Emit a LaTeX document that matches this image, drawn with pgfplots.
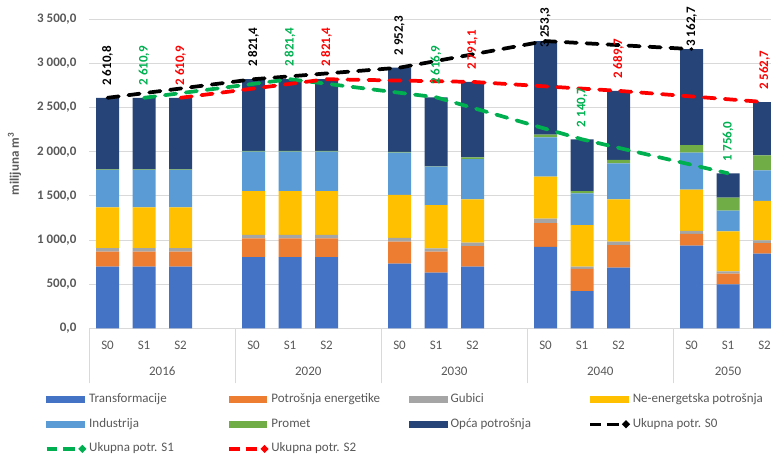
\documentclass[border=0pt]{standalone}
\usepackage{pgfplots}
\pgfplotsset{compat=1.18}
\usepackage{pgfplotstable}
\usepackage{fontspec}
\setmainfont{Carlito}

\definecolor{cTr}{HTML}{4472C4}
\definecolor{cEn}{HTML}{ED7D31}
\definecolor{cGu}{HTML}{A5A5A5}
\definecolor{cNe}{HTML}{FFC000}
\definecolor{cIn}{HTML}{5B9BD5}
\definecolor{cPr}{HTML}{70AD47}
\definecolor{cOp}{HTML}{264478}
\definecolor{cGreen}{HTML}{00B050}
\definecolor{cRed}{HTML}{FF0000}
\definecolor{cGrid}{HTML}{D9D9D9}
\definecolor{cText}{HTML}{595959}

\newcommand{\fs}{\fontsize{9.75}{11.7}\selectfont}
\newcommand{\lgd}[1]{\makebox[103.5pt][l]{#1}}

% stacked components per scenario (x: 0-2 = 2016, 4-6 = 2020, 8-10 = 2030, 12-14 = 2040, 16-18 = 2050)
\pgfplotstableread{
x  tr  en  gu  ne  in  pr  op
0  698 170 41  462 424 4   811.8
1  698 170 41  462 424 4   811.9
2  698 170 41  462 424 4   811.9
4  807 212 38  498 445 10  811.4
5  807 212 38  498 445 10  811.4
6  807 212 38  498 445 10  811.4
8  732 249 42  487 479 8   955.3
9  630 238 38  490 434 5   781.9
10 698 234 38  491 456 18  856.1
12 921 271 49  476 446 30  1060.3
13 422 250 26  472 359 26  585.7
14 687 256 38  480 408 38  782.7
16 936 135 34  465 419 87  1086.7
17 498 120 27  453 234 147 277.0
18 845 121 31  445 347 170 603.7
}\bars

% totals per scenario; lab = vertical position of the value label
\pgfplotstableread{
x  y      lab
0  2610.8 2746.8
4  2821.4 2957.4
8  2952.3 3088.3
12 3253.3 3180
16 3162.7 3188
}\totS
\pgfplotstableread{
x  y      lab
1  2610.9 2746.9
5  2821.4 2957.4
9  2616.9 2752.9
13 2140.7 2276.7
17 1756.0 1892.0
}\totA
\pgfplotstableread{
x  y      lab
2  2610.9 2746.9
6  2821.4 2957.4
10 2791.1 2927.1
14 2689.7 2825.7
18 2562.7 2698.7
}\totB

\pgfplotsset{
  base/.style={
    scale only axis, width=511.275pt, height=231.75pt,
    xmin=-0.5, xmax=18.177, ymin=0, ymax=3500,
    at={(0pt,0pt)}, anchor=south west, clip=false,
  },
  bl/.style={legend image code/.code={%
      \fill[#1] (0pt,-2.15pt) rectangle (28.25pt,2.15pt);
      \path (30.5pt,0pt);}},
  ll/.style={legend image code/.code={%
      \draw[#1, solid, line width=2.5pt, line cap=butt] (0pt,0pt)--(8pt,0pt) (12.5pt,0pt)--(21.25pt,0pt);
      \fill[#1, solid] (26.75pt,0pt) circle[radius=1.1pt];
      \path (30.5pt,0pt);}},
  totline/.style={color=#1, line width=2.8pt, dash pattern=on 8.5pt off 7.25pt, line cap=round, mark=none},
  totlab/.style={forget plot, draw=none, mark=none, point meta=explicit,
    nodes near coords={\pgfmathprintnumber[fixed, fixed zerofill, precision=1, use comma, 1000 sep={\ }, assume math mode=true]{\pgfplotspointmeta}},
    every node near coord/.append style={rotate=90, anchor=west, inner sep=0pt, font=\bfseries\fs, text=#1}},
}

\begin{document}
\begin{tikzpicture}
\useasboundingbox (-66.975pt,-95.025pt) rectangle (511.275pt,246.225pt);

% stacked bars, grid and category axis
\begin{axis}[
  base,
  ybar stacked, bar width=0.63,
  axis x line*=bottom, axis y line*=left,
  y axis line style={draw=none},
  x axis line style={draw=cGrid, line width=0.75pt},
  ymajorgrids, major grid style={cGrid, line width=0.75pt},
  ytick={0,500,...,3500},
  xtick={0,1,2,4,5,6,8,9,10,12,13,14,16,17,18},
  xticklabels={S0,S1,S2,S0,S1,S2,S0,S1,S2,S0,S1,S2,S0,S1,S2},
  minor xtick={-0.5,3.5,7.5,11.5,15.5},
  extra x ticks={1.5,5.5,9.5,13.5,17},
  extra x tick labels={2016,2020,2030,2040,2050},
  extra x tick style={major tick length=0pt, xticklabel style={yshift=-20pt}},
  tick align=outside, major tick length=0pt, minor tick length=41.25pt,
  minor tick style={cGrid, line width=0.75pt},
  xticklabel style={anchor=center, yshift=-12.5pt, font=\fs, text=cText},
  yticklabel style={anchor=east, inner sep=0pt, xshift=-9.5pt, font=\bfseries\fs, text=cText,
    /pgf/number format/.cd, fixed, fixed zerofill, precision=1, use comma, 1000 sep={\ }, assume math mode=true},
  ylabel={milijuna m\textsuperscript{3}},
  ylabel style={at={(axis description cs:-0.1097,0.532)}, anchor=center, font=\bfseries\fs, text=cText},
]
\addplot[fill=cTr, draw=none] table[x=x, y=tr] {\bars};
\addplot[fill=cEn, draw=none] table[x=x, y=en] {\bars};
\addplot[fill=cGu, draw=none] table[x=x, y=gu] {\bars};
\addplot[fill=cNe, draw=none] table[x=x, y=ne] {\bars};
\addplot[fill=cIn, draw=none] table[x=x, y=in] {\bars};
\addplot[fill=cPr, draw=none] table[x=x, y=pr] {\bars};
\addplot[fill=cOp, draw=none] table[x=x, y=op] {\bars};
\end{axis}

% scenario totals, value labels and legend
\begin{axis}[
  base, hide axis,
  legend columns=4, legend cell align=left,
  legend style={at={(-0.065,-0.2101)}, anchor=north west, draw=none, fill=none,
    inner sep=0pt, outer sep=0pt, row sep=9pt, column sep=0pt,
    font=\fs, text=cText,
    nodes={inner sep=0pt, text height=7pt, text depth=2.5pt}},
]
\addlegendimage{bl=cTr}\addlegendentry{\lgd{Transformacije}}
\addlegendimage{bl=cEn}\addlegendentry{\lgd{Potrošnja energetike}}
\addlegendimage{bl=cGu}\addlegendentry{\lgd{Gubici}}
\addlegendimage{bl=cNe}\addlegendentry{\lgd{Ne-energetska potrošnja}}
\addlegendimage{bl=cIn}\addlegendentry{\lgd{Industrija}}
\addlegendimage{bl=cPr}\addlegendentry{\lgd{Promet}}
\addlegendimage{bl=cOp}\addlegendentry{\lgd{Opća potrošnja}}

\addplot[totline=black, ll=black] table[x=x, y=y] {\totS};
\addlegendentry{\lgd{Ukupna potr. S0}}
\addplot[totline=cGreen, ll=cGreen] table[x=x, y=y] {\totA};
\addlegendentry{\lgd{Ukupna potr. S1}}
\addplot[totline=cRed, ll=cRed] table[x=x, y=y] {\totB};
\addlegendentry{\lgd{Ukupna potr. S2}}

\addplot[totlab=black] table[x=x, y=lab, meta=y] {\totS};
\addplot[totlab=cGreen] table[x=x, y=lab, meta=y] {\totA};
\addplot[totlab=cRed] table[x=x, y=lab, meta=y] {\totB};
\end{axis}
\end{tikzpicture}
\end{document}
